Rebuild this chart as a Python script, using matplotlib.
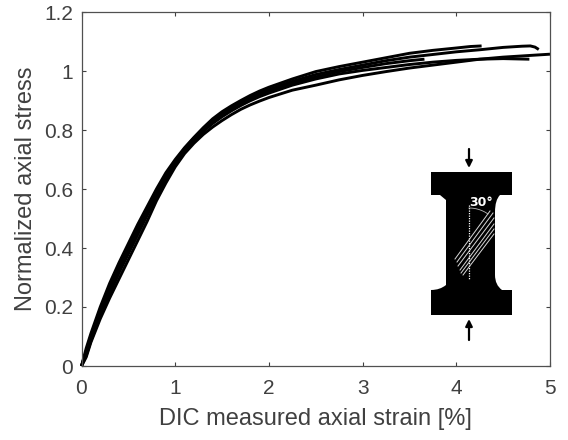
import numpy as np
import matplotlib
matplotlib.use("Agg")
import matplotlib.pyplot as plt
from matplotlib.patches import PathPatch
from matplotlib.path import Path

plt.rcParams['font.family'] = ['Liberation Sans', 'DejaVu Sans']

common_x = [0, 0.05, 0.1, 0.2, 0.3, 0.4, 0.5, 0.6, 0.7, 0.8, 0.9, 1.0, 1.1, 1.2, 1.3, 1.4, 1.5, 1.6, 1.7, 1.8, 1.9, 2.0, 2.25, 2.5, 2.75, 3.0, 3.25, 3.5]
stress_a = [0, 0.06, 0.11, 0.2, 0.28, 0.35, 0.415, 0.48, 0.54, 0.60, 0.655, 0.70, 0.74, 0.775, 0.808, 0.838, 0.862, 0.882, 0.90, 0.917, 0.932, 0.945, 0.973, 0.998, 1.015, 1.03, 1.045, 1.06]
strain_a = common_x + [3.75, 4.0, 4.15, 4.27]
stress_a = stress_a + [1.07, 1.078, 1.083, 1.085]
stress_b = [0, 0.05, 0.10, 0.19, 0.27, 0.34, 0.405, 0.47, 0.53, 0.59, 0.645, 0.695, 0.737, 0.773, 0.805, 0.834, 0.858, 0.878, 0.895, 0.91, 0.925, 0.937, 0.965, 0.988, 1.005, 1.02, 1.035, 1.047]
strain_b = common_x + [3.75, 4.0, 4.25, 4.5, 4.7, 4.79, 4.84, 4.88]
stress_b = stress_b + [1.056, 1.065, 1.072, 1.08, 1.084, 1.085, 1.081, 1.073]
stress_c = [0, 0.03, 0.08, 0.16, 0.23, 0.295, 0.36, 0.425, 0.49, 0.56, 0.62, 0.675, 0.72, 0.755, 0.785, 0.81, 0.832, 0.852, 0.87, 0.885, 0.898, 0.91, 0.935, 0.952, 0.97, 0.985, 0.998, 1.01]
strain_c = common_x + [3.75, 4.0, 4.25, 4.5, 4.75, 5.0]
stress_c = stress_c + [1.02, 1.03, 1.04, 1.047, 1.052, 1.057]
stress_d = [0, 0.035, 0.085, 0.17, 0.245, 0.315, 0.38, 0.445, 0.51, 0.575, 0.63, 0.683, 0.727, 0.762, 0.795, 0.822, 0.845, 0.865, 0.883, 0.899, 0.913, 0.925, 0.952, 0.973, 0.99, 1.002, 1.012, 1.022]
strain_d = common_x + [3.75, 4.0, 4.25, 4.5, 4.78]
stress_d = stress_d + [1.03, 1.036, 1.04, 1.042, 1.04]
stress_e = [0, 0.045, 0.095, 0.18, 0.26, 0.33, 0.395, 0.46, 0.525, 0.585, 0.64, 0.69, 0.732, 0.768, 0.80, 0.828, 0.852, 0.872, 0.889, 0.905, 0.919, 0.931, 0.958, 0.98, 0.998, 1.012, 1.025, 1.035]
strain_e = common_x + [3.66]
stress_e = stress_e + [1.04]
series = [(strain_a, stress_a), (strain_b, stress_b), (strain_c, stress_c), (strain_d, stress_d), (strain_e, stress_e)]

x_ticks = [0, 1, 2, 3, 4, 5]
y_ticks = [0, 0.2, 0.4, 0.6, 0.8, 1, 1.2]
y_labels = ['0', '0.2', '0.4', '0.6', '0.8', '1', '1.2']
x_label = 'DIC measured axial strain [%]'
y_label = 'Normalized axial stress'
angle_label = '30°'

W, H = 568, 440
fig = plt.figure(figsize=(W/100, H/100), dpi=100)
ax = fig.add_axes([81.5/W, 1-366/H, 468.5/W, 354/H])
for xs, ys in series:
    ax.plot(xs, ys, color='black', lw=2.1, solid_capstyle='butt', solid_joinstyle='round',
            clip_on=False)
ax.set_xlim(0, 5)
ax.set_ylim(0, 1.2)
ax.set_xticks(x_ticks)
ax.set_yticks(y_ticks)
ax.set_yticklabels(y_labels)
ax.tick_params(direction='in', top=True, right=True, length=3, width=0.8, color='#404040',
               labelsize=15, labelcolor='#404040')
ax.tick_params(axis='x', pad=9)
ax.tick_params(axis='y', pad=6)
for s in ax.spines.values():
    s.set_color('#505050')
    s.set_linewidth(0.9)
ax.set_xlabel(x_label, fontsize=17, color='#404040', va='center')
ax.set_ylabel(y_label, fontsize=17, color='#404040', va='center')
ax.xaxis.set_label_coords(0.5, (366 - 419.5) / 354)
ax.yaxis.set_label_coords((26 - 81.5) / 468.5, 0.5)

# Specimen schematic, in pixel coordinates of the figure
ins = fig.add_axes([0, 0, 1, 1], facecolor='none')
ins.set_xlim(0, W)
ins.set_ylim(H, 0)
ins.axis('off')
M, L, C, Z = Path.MOVETO, Path.LINETO, Path.CURVE3, Path.CLOSEPOLY
verts = [(431, 172), (512, 172), (512, 195), (500, 195), (495, 200), (495, 212), (495, 275),
         (495, 285), (502, 290), (512, 290), (512, 315), (431, 315), (431, 290), (440, 290),
         (446, 285), (446, 275), (446, 212), (446, 200), (440, 195), (431, 195), (431, 172)]
codes = [M, L, L, L, C, C, L, C, C, L, L, L, L, C, C, L, C, C, L, L, Z]
ins.add_patch(PathPatch(Path(verts, codes), fc='black', ec='none'))
ins.plot([469, 469], [205, 280], color='white', lw=0.9, ls=(0, (1, 1)))
hatch_starts = [(455, 259), (457, 262), (458, 266), (460, 270), (461, 273), (463, 275)]
hatch_ends = [(490, 211), (493, 213), (494, 218), (494, 224), (494, 229), (494, 234)]
for (x0, y0), (x1, y1) in zip(hatch_starts, hatch_ends):
    ins.plot([x0, x1], [y0, y1], color='#d8d8d8', lw=0.7)
t = np.radians(np.linspace(0, 35, 20))
ins.plot(469 + 33*np.sin(t), 241 - 33*np.cos(t), color='#bbbbbb', lw=0.6)
ins.text(481, 202, angle_label, color='white', fontsize=9, fontweight='bold', ha='center', va='center', family='DejaVu Sans')
ins.annotate('', xy=(469, 168), xytext=(469, 149), arrowprops=dict(arrowstyle='-|>', color='black', lw=1.6, mutation_scale=10, shrinkA=0, shrinkB=0))
ins.annotate('', xy=(469, 319), xytext=(469, 340), arrowprops=dict(arrowstyle='-|>', color='black', lw=1.6, mutation_scale=10, shrinkA=0, shrinkB=0))

fig.savefig('out.png', dpi=100)
